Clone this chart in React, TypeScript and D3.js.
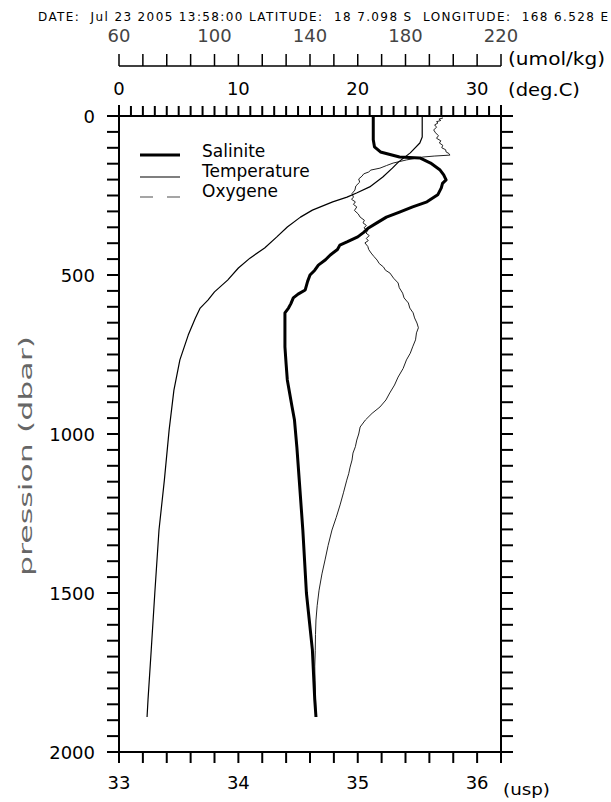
import React from "react";
import * as d3 from "d3";

const W = 611;
const H = 802;

// Header text
const headerText = "DATE:  Jul 23 2005 13:58:00 LATITUDE:  18 7.098 S  LONGITUDE:  168 6.528 E";

// Axis tick labels
const pressureLabels = [0, 500, 1000, 1500, 2000];
const salinityLabels = [33, 34, 35, 36];
const temperatureLabels = [0, 10, 20, 30];
const oxygenLabels = [60, 100, 140, 180, 220];

// Salinity profile: [pressure dbar, salinity usp]
const salinityProfile: [number, number][] = [
  [0, 35.13], [75, 35.13], [97, 35.14], [113, 35.19], [129, 35.35], [132, 35.52], [148, 35.61],
  [170, 35.69], [185, 35.72], [201, 35.74], [212, 35.71], [226, 35.70], [248, 35.67], [270, 35.58],
  [286, 35.46], [302, 35.35], [318, 35.24], [336, 35.16], [352, 35.09], [366, 35.05], [380, 35.00],
  [396, 34.91], [406, 34.85], [420, 34.83], [437, 34.77], [452, 34.73], [469, 34.67], [485, 34.64],
  [500, 34.60], [520, 34.58], [547, 34.56], [560, 34.50], [572, 34.46], [590, 34.44], [604, 34.42],
  [619, 34.39], [680, 34.39], [726, 34.39], [780, 34.40], [830, 34.41], [915, 34.45], [956, 34.47],
  [1041, 34.49], [1145, 34.51], [1302, 34.54], [1500, 34.57], [1679, 34.62], [1836, 34.64], [1890, 34.65],
];

// Temperature profile: [pressure dbar, deg C]
const temperatureProfile: [number, number][] = [
  [0, 25.4], [66, 25.4], [85, 25.2], [116, 24.4], [145, 23.4], [164, 22.9], [192, 22.1], [223, 21.0],
  [242, 19.9], [255, 19.1], [270, 17.9], [296, 16.2], [318, 15.2], [349, 14.1], [381, 13.2],
  [415, 12.2], [447, 10.97], [478, 10.0], [516, 9.1], [553, 8.0], [579, 7.45], [604, 6.8], [635, 6.4],
  [689, 5.8], [767, 5.1], [862, 4.6], [987, 4.2], [1145, 3.8], [1302, 3.35], [1500, 3.0], [1679, 2.7],
  [1836, 2.43], [1890, 2.35],
];

// Oxygen profile: [pressure dbar, umol/kg]
const oxygenProfile: [number, number][] = [
  [6, 195.7], [10, 194.0], [14, 194.8], [18, 193.0], [22, 193.6], [28, 192.2], [35, 193.0], [44, 191.8],
  [53, 192.6], [62, 193.8], [70, 193.0], [78, 194.8], [85, 194.2], [92, 195.6], [100, 195.2],
  [106, 196.8], [113, 197.0], [118, 198.2], [123, 198.6], [126, 192.0], [129, 187.3], [138, 180.5],
  [148, 174.8], [156, 172.0], [164, 169.3], [170, 165.5], [176, 164.6], [182, 162.5], [189, 161.8],
  [198, 160.4], [208, 160.8], [220, 159.2], [233, 158.8], [244, 157.6], [255, 158.2], [262, 157.4],
  [270, 159.0], [278, 158.2], [286, 159.6], [297, 158.6], [308, 160.2], [318, 161.0], [328, 162.8],
  [336, 162.2], [344, 163.6], [352, 162.6], [360, 164.2], [368, 163.4], [376, 164.8], [385, 163.6],
  [392, 164.4], [399, 163.0], [410, 164.2], [420, 164.6], [431, 165.6], [442, 166.8], [453, 168.1],
  [464, 169.0], [475, 170.8], [485, 171.6], [494, 173.5], [510, 175.0], [525, 176.9], [540, 177.4],
  [557, 178.8], [572, 179.4], [588, 181.2], [604, 181.8], [619, 183.2], [635, 183.8], [651, 184.8],
  [666, 185.4], [682, 184.6], [704, 184.2], [726, 183.0], [746, 182.0], [767, 180.4], [794, 179.0],
  [821, 176.9], [846, 175.4], [871, 173.4], [893, 171.8], [915, 169.3], [935, 166.0], [956, 163.2],
  [978, 161.0], [1000, 160.4], [1019, 159.6], [1040, 159.0], [1060, 158.0], [1082, 157.6],
  [1104, 156.8], [1125, 156.2], [1145, 155.4], [1185, 154.0], [1223, 152.6], [1262, 151.0],
  [1302, 149.2], [1350, 147.6], [1396, 146.3], [1440, 145.0], [1491, 143.8], [1540, 143.0],
  [1585, 142.5], [1630, 142.3], [1680, 142.2], [1730, 142.0], [1774, 142.1], [1830, 142.3], [1890, 142.5],
];

const legendItems = ["Salinite", "Temperature", "Oxygene"];

const FONT = "'DejaVu Sans', sans-serif";

export default function App() {
  const left = 119, right = 501, top = 116, bottom = 752;
  const tick = 11;

  const y = d3.scaleLinear().domain([0, 2000]).range([top, bottom]);
  const xS = d3.scaleLinear().domain([33, 36.2]).range([left, right]);
  const xT = d3.scaleLinear().domain([0, 32]).range([left, right]);
  const xO = d3.scaleLinear().domain([60, 220]).range([left, right]);
  const oxyAxisY = 66;

  const salLine = d3.line<[number, number]>().x((d) => xS(d[1])).y((d) => y(d[0]))(salinityProfile) || "";
  const tempLine = d3.line<[number, number]>().x((d) => xT(d[1])).y((d) => y(d[0]))(temperatureProfile) || "";
  const oxyLine = d3.line<[number, number]>().x((d) => xO(d[1])).y((d) => y(d[0]))(oxygenProfile) || "";

  const pTicks = d3.range(0, 2001, 50);
  const sTicks = d3.range(0, 17).map((i) => 33 + i * 0.2);
  const tTicks = d3.range(0, 33, 1);
  const oTicks = d3.range(60, 221, 10);

  const ax = { stroke: "#000", strokeWidth: 2 };

  return (
    <svg width={W} height={H} style={{ position: "absolute", left: 0, top: 0, background: "#fff" }} fontFamily={FONT}>
      <rect width={W} height={H} fill="#fff" />
      {/* header */}
      <text x={38} y={21} fontSize={12} textLength={570} lengthAdjust="spacing" style={{ whiteSpace: "pre" }} fill="#000">
        {headerText}
      </text>

      {/* oxygen axis */}
      <line x1={xO(60)} x2={xO(220)} y1={oxyAxisY} y2={oxyAxisY} stroke="#000" strokeWidth={1.5} />
      {oTicks.map((o) => (
        <line key={"o" + o} x1={xO(o)} x2={xO(o)} y1={oxyAxisY} y2={oxyAxisY - 12} stroke="#000" strokeWidth={1.5} />
      ))}
      {oxygenLabels.map((o) => (
        <text key={"ol" + o} x={xO(o)} y={42} fontSize={18} textAnchor="middle" fill="#444">{o}</text>
      ))}
      <text x={508} y={65} fontSize={17} textLength={97} lengthAdjust="spacingAndGlyphs" fill="#000">(umol/kg)</text>

      {/* temperature axis labels */}
      {temperatureLabels.map((t) => (
        <text key={"tl" + t} x={xT(t)} y={95} fontSize={18} textAnchor="middle" fill="#000">{t}</text>
      ))}
      <text x={508} y={95.5} fontSize={17} textLength={72} lengthAdjust="spacingAndGlyphs" fill="#000">(deg.C)</text>

      {/* frame */}
      <line x1={left} x2={left} y1={top - tick} y2={bottom + tick} {...ax} />
      <line x1={right} x2={right} y1={top - tick} y2={bottom + tick} {...ax} />
      <line x1={left - 12} x2={right + 12} y1={top} y2={top} {...ax} />
      <line x1={left - 12} x2={right + 12} y1={bottom} y2={bottom} {...ax} />

      {/* top temperature ticks */}
      {tTicks.map((t) => (
        <line key={"t" + t} x1={xT(t)} x2={xT(t)} y1={top} y2={top - 10} {...ax} />
      ))}
      {/* bottom salinity ticks */}
      {sTicks.map((s, i) => (
        <line key={"s" + i} x1={xS(s)} x2={xS(s)} y1={bottom} y2={bottom + tick} {...ax} />
      ))}
      {/* pressure ticks */}
      {pTicks.map((p) => (
        <g key={"p" + p}>
          <line x1={left - 12} x2={left} y1={y(p)} y2={y(p)} {...ax} />
          <line x1={right} x2={right + 12} y1={y(p)} y2={y(p)} {...ax} />
        </g>
      ))}
      {pressureLabels.map((p) => (
        <text key={"pl" + p} x={95} y={y(p) + 6.5} fontSize={18} textAnchor="end" fill="#000">{p}</text>
      ))}
      <text
        transform={`translate(32,456) rotate(-90)`}
        fontSize={18}
        textAnchor="middle"
        textLength={240}
        lengthAdjust="spacingAndGlyphs"
        fill="#666"
      >
        pression (dbar)
      </text>

      {/* salinity labels */}
      {salinityLabels.map((s) => (
        <text key={"sl" + s} x={xS(s)} y={789} fontSize={18} textAnchor="middle" fill="#000">{s}</text>
      ))}
      <text x={503} y={795} fontSize={16} textLength={47} lengthAdjust="spacingAndGlyphs" fill="#000">(usp)</text>

      {/* profiles */}
      <path d={oxyLine} fill="none" stroke="#222" strokeWidth={1} strokeLinejoin="round" />
      <path d={tempLine} fill="none" stroke="#000" strokeWidth={1.2} strokeLinejoin="round" />
      <path d={salLine} fill="none" stroke="#000" strokeWidth={3} strokeLinejoin="round" />

      {/* legend */}
      <line x1={140} x2={180} y1={155} y2={155} stroke="#000" strokeWidth={3} />
      <line x1={140} x2={180} y1={177} y2={177} stroke="#000" strokeWidth={1.2} />
      <line x1={140} x2={180} y1={197} y2={197} stroke="#888" strokeWidth={1.5} strokeDasharray="13,14" />
      {legendItems.map((name, i) => (
        <text key={name} x={202} y={157 + i * 20} fontSize={17} fill="#000">{name}</text>
      ))}
    </svg>
  );
}
